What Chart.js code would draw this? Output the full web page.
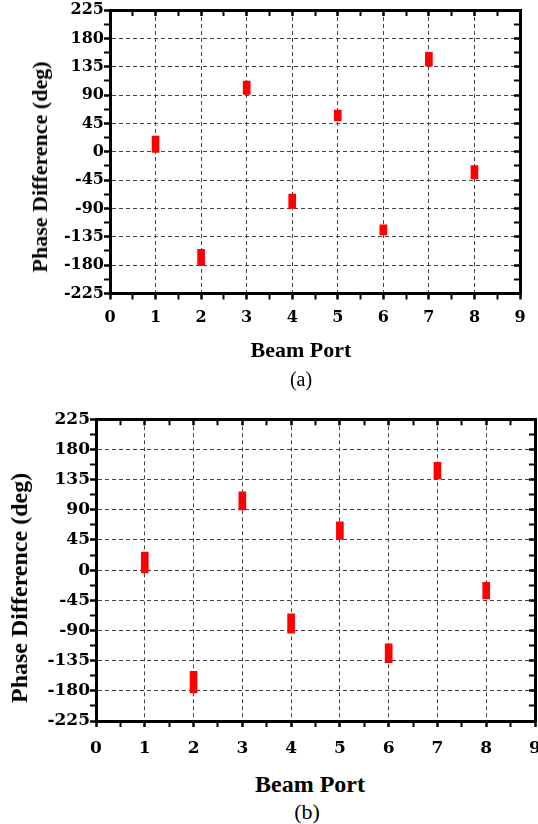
<!DOCTYPE html>
<html>
<head>
<meta charset="utf-8">
<script src="https://cdn.jsdelivr.net/npm/chart.js@4.4.1/dist/chart.umd.min.js"></script>
<style>
body{margin:0;background:#fff}
#wrap{position:relative;width:538px;height:824px;overflow:hidden;background:#fff}
canvas{position:absolute;left:0}
.t{position:absolute;font-family:"Liberation Serif","Times New Roman",serif;font-weight:bold;white-space:nowrap;line-height:1;color:#000;transform:translate(-50%,-50%)}
.yt{transform:translate(-50%,-50%) rotate(-90deg)}
.cap{font-weight:normal}
</style>
</head>
<body>
<div id="wrap">
  <canvas id="chartA" width="538" height="340" style="top:0"></canvas>
  <canvas id="chartB" width="538" height="370" style="top:400px"></canvas>
  <div class="t yt" style="left:40px;top:167px;font-size:22px">Phase Difference (deg)</div>
  <div class="t" style="left:301px;top:350px;font-size:22px">Beam Port</div>
  <div class="t cap" style="left:301px;top:379px;font-size:20px">(a)</div>
  <div class="t yt" style="left:19px;top:588px;font-size:24px">Phase Difference (deg)</div>
  <div class="t" style="left:310px;top:784px;font-size:24px">Beam Port</div>
  <div class="t cap" style="left:307px;top:812px;font-size:22px">(b)</div>
</div>
<script>
// beam ports and measured phase difference ranges (deg), low / high end of each red bar
const ports = [1, 2, 3, 4, 5, 6, 7, 8]
const lowA  = [-1, -181, 91, -90, 49, -132, 136, -43]
const highA = [25, -155, 112, -67, 66, -116, 158, -22]
const lowB  = [-4, -183, 90, -94, 46, -138, 136, -43]
const highB = [27, -151, 117, -65, 72, -110, 161, -18]

const xMin = 0, xMax = 9
const yMin = -225, yMax = 225

const isMajorX = v => Math.abs(v - Math.round(v)) < 1e-6
const isMajorY = v => Math.abs(v / 45 - Math.round(v / 45)) < 1e-6

// keep the plot box where we want it, no extra room for the end labels
function noPad(s){ s.paddingLeft = 0; s.paddingRight = 0; s.paddingTop = 0; s.paddingBottom = 0 }

function prepchart(id, low, high, box, tickSize, xPad){
  const canvas = document.getElementById(id)
  const tickFont = {family: '"DejaVu Serif", serif', weight: 'bold', size: tickSize}
  const frame = {color: '#000', width: 3}
  new Chart(canvas, {
    type: 'bar',
    data: {
      datasets: [{
        data: ports.map((p, i) => ({x: p, y: [low[i], high[i]]})),
        backgroundColor: '#ff0000',
        borderWidth: 0,
        barThickness: 7
      }]
    },
    options: {
      responsive: false,
      animation: false,
      devicePixelRatio: 1,
      layout: {padding: {left: 0, top: box.top, right: canvas.width - box.right, bottom: 0}},
      plugins: {legend: {display: false}, tooltip: {enabled: false}},
      scales: {
        x: {
          type: 'linear', position: 'bottom', min: xMin, max: xMax, offset: false,
          ticks: {stepSize: 0.5, autoSkip: false, maxRotation: 0, padding: xPad, color: '#000', font: tickFont,
                  callback: v => isMajorX(v) ? String(Math.round(v)) : ''},
          grid: {offset: false, lineWidth: 1, tickLength: 6, tickColor: '#000',
                 tickWidth: c => isMajorX(c.tick.value) ? 2.5 : 2,
                 color: c => isMajorX(c.tick.value) ? '#444' : 'rgba(0,0,0,0)'},
          border: Object.assign({dash: [4, 3]}, frame),
          afterFit: s => { s.height = canvas.height - box.bottom; noPad(s) }
        },
        x2: {
          type: 'linear', position: 'top', min: xMin, max: xMax, offset: false,
          ticks: {stepSize: 0.5, autoSkip: false, display: false},
          grid: {offset: false, drawOnChartArea: false, tickLength: -6, tickColor: '#000',
                 tickWidth: c => isMajorX(c.tick.value) ? 2.5 : 2},
          border: frame,
          afterFit: s => { s.height = 0; noPad(s) }
        },
        y: {
          type: 'linear', position: 'left', min: yMin, max: yMax,
          ticks: {stepSize: 22.5, autoSkip: false, padding: 0, color: '#000', font: tickFont,
                  callback: v => isMajorY(v) ? String(Math.round(v)) : ''},
          grid: {lineWidth: 1, tickLength: 6, tickColor: '#000',
                 tickWidth: c => isMajorY(c.tick.value) ? 2.5 : 2,
                 color: c => isMajorY(c.tick.value) ? '#444' : 'rgba(0,0,0,0)'},
          border: Object.assign({dash: [4, 3]}, frame),
          afterFit: s => { s.width = box.left; noPad(s) }
        },
        y2: {
          type: 'linear', position: 'right', min: yMin, max: yMax,
          ticks: {stepSize: 22.5, autoSkip: false, display: false},
          grid: {drawOnChartArea: false, tickLength: -6, tickColor: '#000',
                 tickWidth: c => isMajorY(c.tick.value) ? 2.5 : 2},
          border: frame,
          afterFit: s => { s.width = 0; noPad(s) }
        }
      }
    }
  })
}

prepchart('chartA', lowA, highA, {left: 110, right: 520, top: 10, bottom: 293.5}, 16, 9)
prepchart('chartB', lowB, highB, {left: 96, right: 535, top: 19.3, bottom: 321}, 17, 11)
</script>
</body>
</html>
